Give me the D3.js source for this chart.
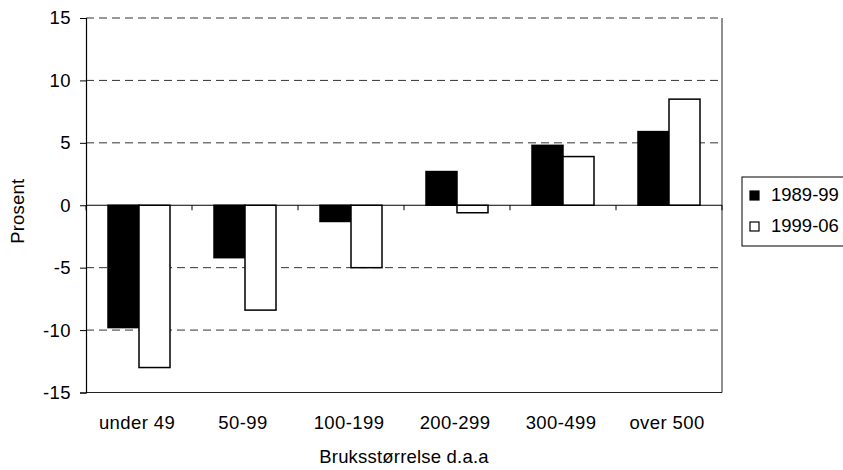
<!DOCTYPE html>
<html>
<head>
<meta charset="utf-8">
<script src="https://cdn.jsdelivr.net/npm/d3@7"></script>
<style>
  html, body { margin: 0; padding: 0; background: #fff; }
  svg text { font-family: "Liberation Sans", Arial, sans-serif; fill: #000; }
</style>
</head>
<body>
<svg id="chart" width="843" height="470"></svg>
<script>
// Endring i antall bruk etter bruksstørrelse (prosent)
const categories = ["under 49", "50-99", "100-199", "200-299", "300-499", "over 500"];
const seriesNames = ["1989-99", "1999-06"];
const values1989 = [-9.8, -4.2, -1.3, 2.7, 4.8, 5.9];
const values1999 = [-13.0, -8.4, -5.0, -0.6, 3.9, 8.5];
const yTicks = [-15, -10, -5, 0, 5, 10, 15];
const seriesFill = ["#000000", "#ffffff"];

const svg = d3.select("#chart");
const plot = { left: 86, right: 722, top: 18, bottom: 392.5 };
const fontSize = 18.5;
const spacing = "0.4px";

const x0 = d3.scaleBand().domain(categories).range([plot.left, plot.right]).padding(0);
const x1 = d3.scaleBand().domain(seriesNames).range([22, 84]).padding(0);
const y = d3.scaleLinear().domain([-15, 15]).range([plot.bottom, plot.top]);

const seriesValues = [values1989, values1999];

// dashed gridlines
svg.append("g")
  .selectAll("line")
  .data(yTicks.filter(t => t !== 0 && t !== -15))
  .join("line")
  .attr("x1", plot.left).attr("x2", plot.right)
  .attr("y1", d => y(d)).attr("y2", d => y(d))
  .attr("stroke", "#333")
  .attr("stroke-width", 1)
  .attr("stroke-dasharray", "8,5");

// bottom and right frame
svg.append("line")
  .attr("x1", plot.left).attr("x2", plot.right)
  .attr("y1", y(-15)).attr("y2", y(-15))
  .attr("stroke", "#222").attr("stroke-width", 1);
svg.append("line")
  .attr("x1", plot.right).attr("x2", plot.right)
  .attr("y1", y(15)).attr("y2", y(-15))
  .attr("stroke", "#222").attr("stroke-width", 1);

// bars
const rows = categories.map((c, i) => ({
  cat: c,
  vals: seriesNames.map((s, j) => ({ s, j, v: seriesValues[j][i] }))
}));

svg.append("g")
  .selectAll("g")
  .data(rows)
  .join("g")
  .attr("transform", d => `translate(${x0(d.cat)},0)`)
  .selectAll("rect")
  .data(d => d.vals)
  .join("rect")
  .attr("x", d => x1(d.s))
  .attr("width", x1.bandwidth())
  .attr("y", d => y(Math.max(0, d.v)))
  .attr("height", d => Math.abs(y(d.v) - y(0)))
  .attr("fill", d => seriesFill[d.j])
  .attr("stroke", "#000")
  .attr("stroke-width", 1.5);

// zero line with category boundary ticks
svg.append("line")
  .attr("x1", plot.left).attr("x2", plot.right)
  .attr("y1", y(0)).attr("y2", y(0))
  .attr("stroke", "#000").attr("stroke-width", 1.2);

const boundaries = categories.map(c => x0(c)).concat([plot.right]);
svg.append("g")
  .selectAll("line")
  .data(boundaries)
  .join("line")
  .attr("x1", d => d).attr("x2", d => d)
  .attr("y1", y(0)).attr("y2", y(0) + 5)
  .attr("stroke", "#000").attr("stroke-width", 1);

// y axis
const yAxis = d3.axisLeft(y).tickValues(yTicks).tickSize(6).tickPadding(9).tickFormat(d => String(d));
const yg = svg.append("g")
  .attr("transform", `translate(${plot.left},0)`)
  .call(yAxis);
yg.attr("font-family", null).attr("font-size", null);
yg.select(".domain").attr("stroke", "#000").attr("stroke-width", 1.2);
yg.selectAll(".tick line").attr("stroke", "#000");
yg.selectAll(".tick text")
  .attr("font-size", fontSize)
  .style("letter-spacing", spacing);

// category labels
svg.append("g")
  .selectAll("text")
  .data(categories)
  .join("text")
  .attr("x", d => x0(d) + x0.bandwidth() / 2 - 2)
  .attr("y", 429)
  .attr("text-anchor", "middle")
  .attr("font-size", fontSize)
  .style("letter-spacing", spacing)
  .text(d => d);

// axis titles
svg.append("text")
  .attr("x", (plot.left + plot.right) / 2)
  .attr("y", 463)
  .attr("text-anchor", "middle")
  .attr("font-size", fontSize)
  .style("letter-spacing", "0.2px")
  .text("Bruksstørrelse d.a.a");

svg.append("text")
  .attr("transform", `translate(24,${(plot.top + plot.bottom) / 2 + 6}) rotate(-90)`)
  .attr("text-anchor", "middle")
  .attr("font-size", fontSize)
  .style("letter-spacing", "0.2px")
  .text("Prosent");

// legend
const legend = svg.append("g").attr("transform", "translate(742,177)");
legend.append("rect")
  .attr("x", 0).attr("y", 0)
  .attr("width", 120).attr("height", 69)
  .attr("fill", "#fff").attr("stroke", "#000").attr("stroke-width", 1);
const items = legend.selectAll("g.item")
  .data(seriesNames)
  .join("g")
  .attr("class", "item")
  .attr("transform", (d, i) => `translate(0,${i * 31})`);
items.append("rect")
  .attr("x", 8).attr("y", 14)
  .attr("width", 9).attr("height", 9)
  .attr("fill", (d, i) => seriesFill[i])
  .attr("stroke", "#000").attr("stroke-width", 1.2);
items.append("text")
  .attr("x", 29).attr("y", 24)
  .attr("font-size", fontSize)
  .text(d => d);
</script>
</body>
</html>
